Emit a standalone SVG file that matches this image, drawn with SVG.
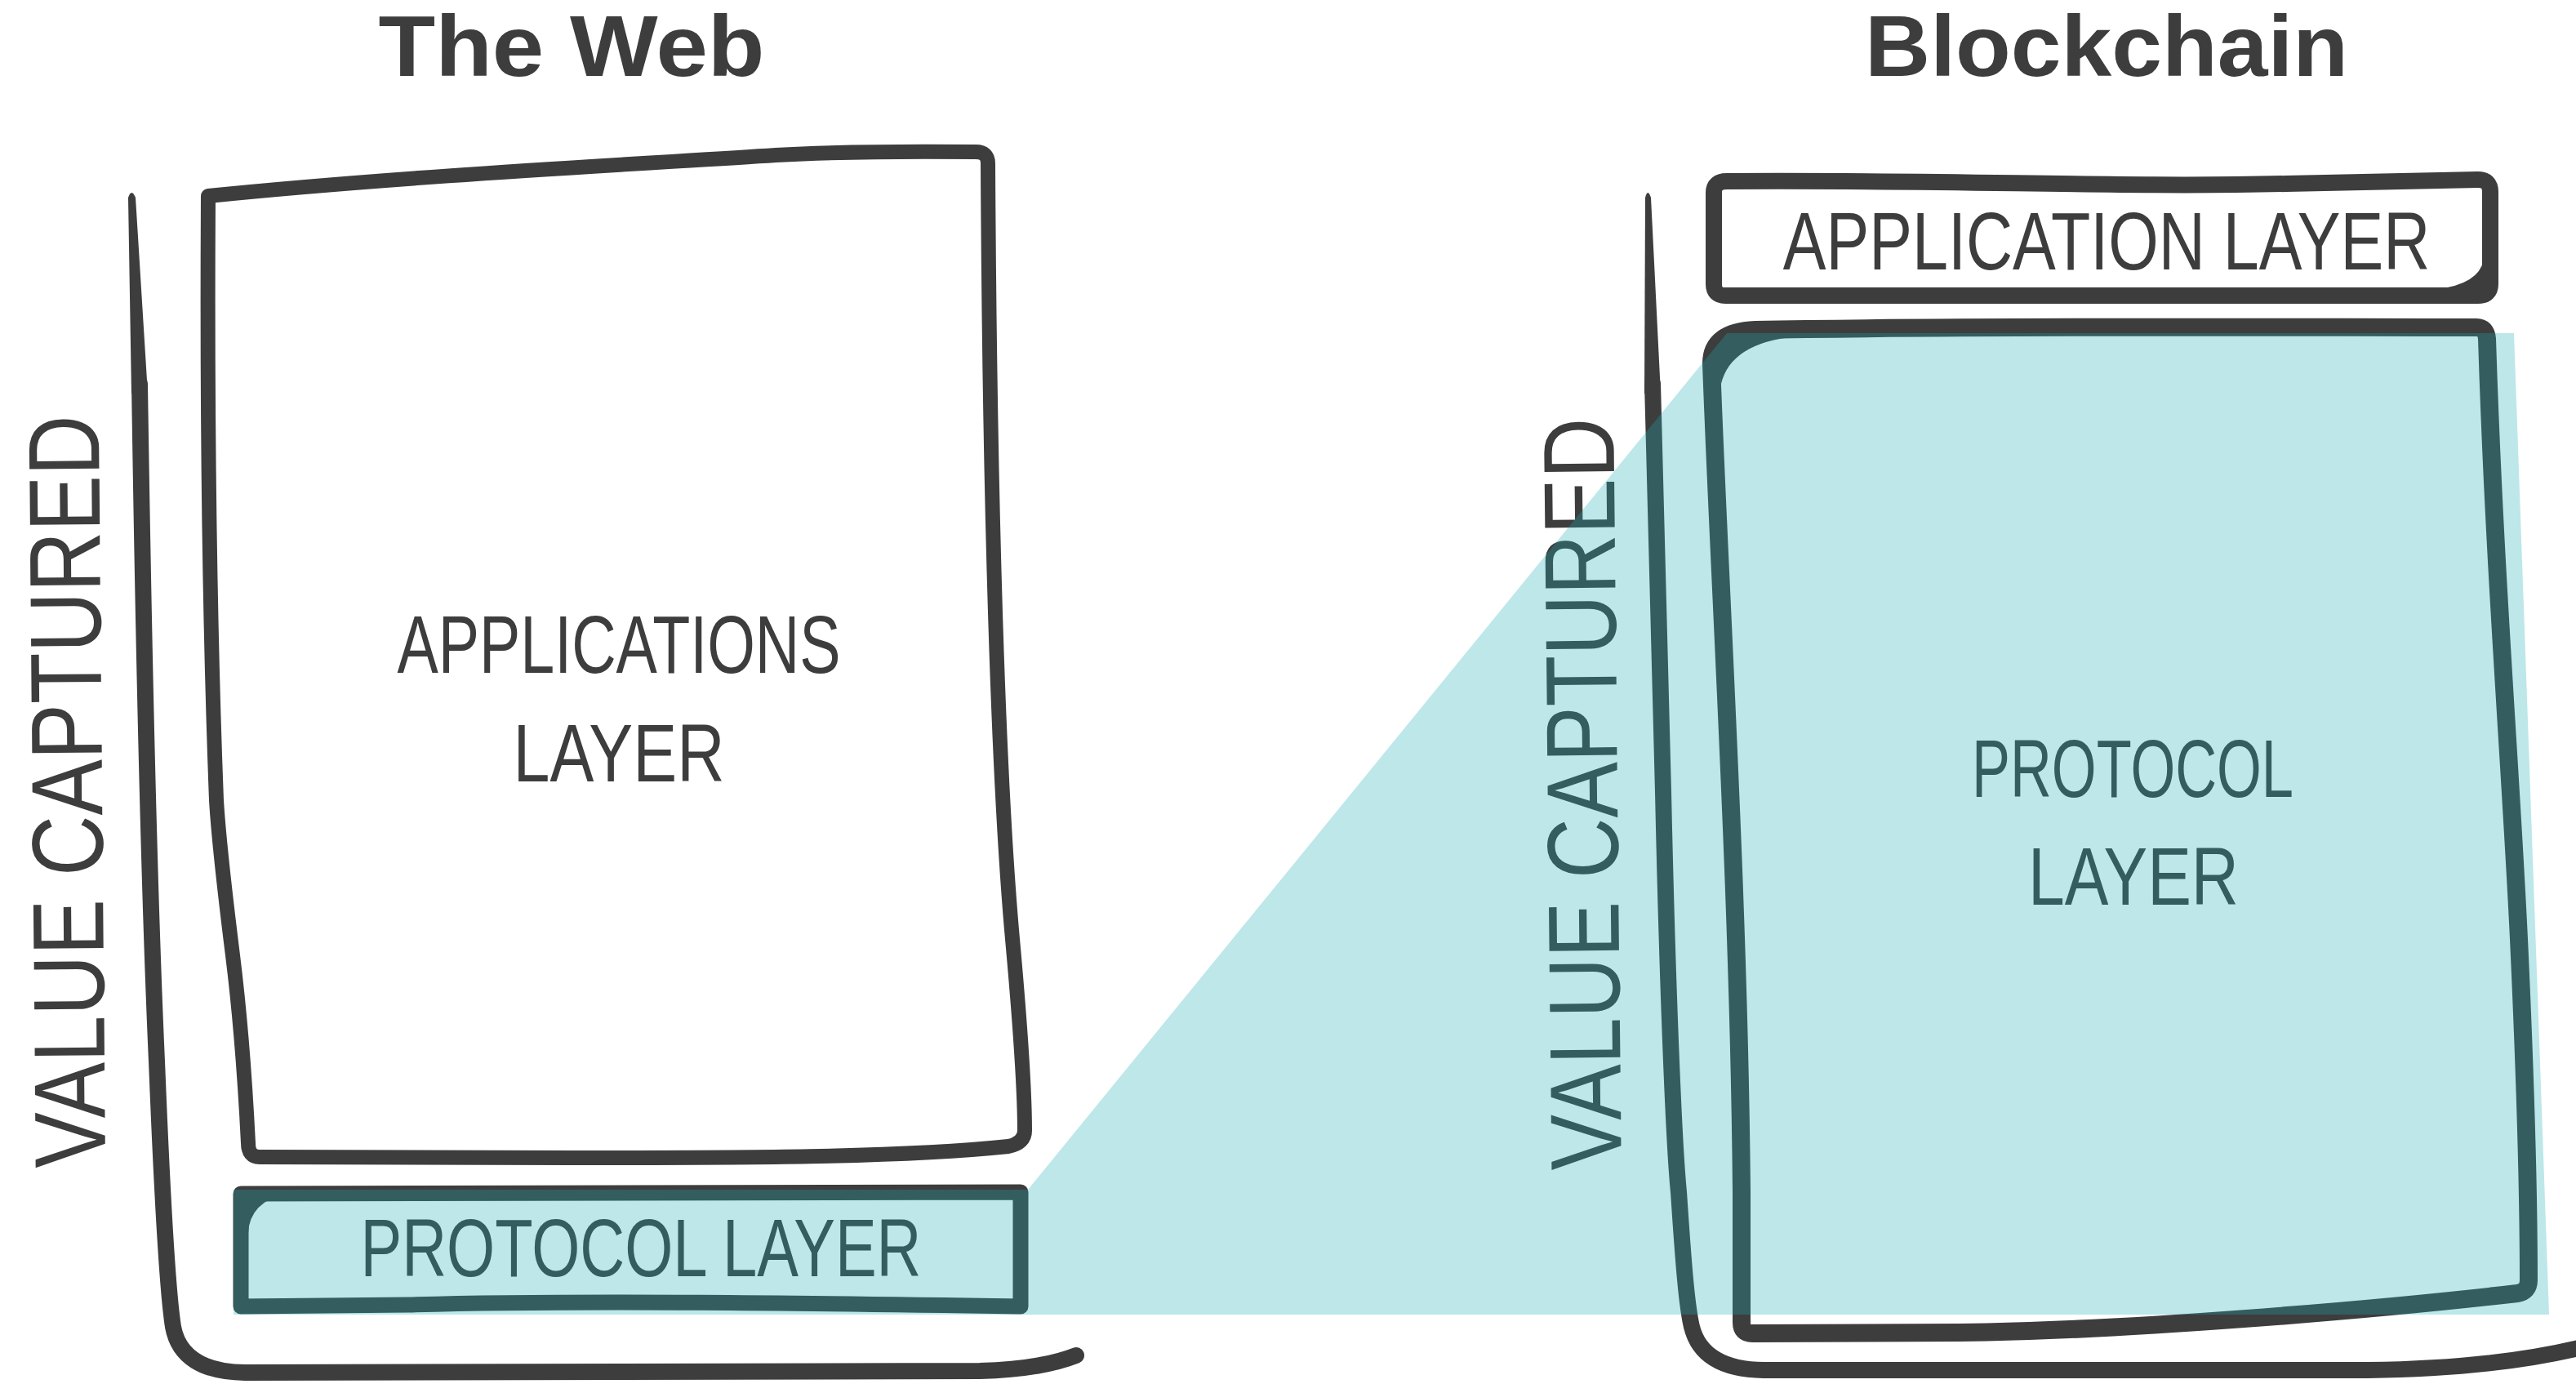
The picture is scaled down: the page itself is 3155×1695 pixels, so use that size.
<svg xmlns="http://www.w3.org/2000/svg" width="3155" height="1695" viewBox="0 0 3155 1695">
<style>
.ink{fill:none;stroke:#3d3d3d;stroke-linecap:round;stroke-linejoin:round}
.box{fill:#fff;stroke:#3d3d3d;stroke-linecap:round;stroke-linejoin:round}
.solid{fill:#3d3d3d;stroke:none}
.title{font-family:"Liberation Sans",Arial,sans-serif;font-weight:bold;font-size:105px;fill:#3d3d3d;text-anchor:middle}
.hand{font-family:"Liberation Sans",Arial,sans-serif;font-size:100px;fill:#3d3d3d;text-anchor:middle}
.axislabel{font-size:124px}
.overlay{fill:#1aaeb4;fill-opacity:0.29;stroke:none}
</style>
<rect width="3155" height="1695" fill="#fff"/>

<g id="title-web"><text class="title" x="700" y="93" textLength="473" lengthAdjust="spacingAndGlyphs">The Web</text></g>
<g id="title-blockchain"><text class="title" x="2580" y="93" textLength="592" lengthAdjust="spacingAndGlyphs">Blockchain</text></g>

<g id="web-axis">
  <path class="solid" d="M157,242 Q161,230 166,242 L181,482 L161,482 Z"/>
  <path class="ink" stroke-width="20" d="M171,470 C176,800 183,1100 192,1300 C198,1450 205,1580 212,1625 Q222,1680 300,1681 L1200,1679 Q1275,1677 1318,1660"/>
  <text class="hand axislabel" transform="translate(125,969) rotate(-90.5)" textLength="922" lengthAdjust="spacingAndGlyphs">VALUE CAPTURED</text>
</g>

<g id="web-applications-layer">
  <path class="box" stroke-width="18" d="M255,240 C500,215 800,200 950,190 C1020,186 1100,185 1195,186 Q1210,186 1210,200 C1212,600 1222,950 1240,1150 C1250,1260 1255,1330 1255,1385 Q1255,1400 1235,1404 C1100,1418 900,1418 700,1418 L318,1417 Q304,1417 304,1400 C300,1320 295,1250 285,1170 C275,1090 268,1030 265,980 C260,850 253,600 255,240 Z"/>
  <text class="hand" x="758" y="824" textLength="543" lengthAdjust="spacingAndGlyphs">APPLICATIONS</text>
  <text class="hand" x="758" y="957" textLength="259" lengthAdjust="spacingAndGlyphs">LAYER</text>
</g>

<g id="web-protocol-layer">
  <path class="box" stroke-width="19" d="M295,1600 L295,1462 L1250,1460 L1250,1600 C1000,1596 700,1592 500,1598 Z"/>
  <path class="solid" d="M290,1462 L350,1462 Q306,1472 304,1510 Z"/>
  <text class="hand" x="785" y="1563" textLength="687" lengthAdjust="spacingAndGlyphs">PROTOCOL LAYER</text>
</g>

<g id="blockchain-axis">
  <path class="solid" d="M2015,242 Q2018,230 2022,242 L2034,482 L2014,482 Z"/>
  <path class="ink" stroke-width="20" d="M2024,470 C2030,700 2034,900 2037,970 C2042,1200 2050,1400 2056,1460 C2062,1550 2066,1600 2072,1625 Q2085,1677 2160,1678 L2900,1678 Q3060,1676 3170,1648"/>
  <text class="hand axislabel" transform="translate(1981,972) rotate(-90.6)" textLength="921" lengthAdjust="spacingAndGlyphs">VALUE CAPTURED</text>
</g>

<g id="blockchain-application-layer">
  <path class="box" stroke-width="20" d="M2099,236 Q2099,222 2115,222 C2400,220 2600,230 2800,225 L3035,220 Q3050,220 3050,235 L3050,348 Q3050,362 3035,362 L2113,362 Q2099,362 2099,348 Z"/>
  <path class="solid" d="M3042,318 Q3036,348 2985,354 L3042,354 Z"/>
  <text class="hand" transform="translate(2580,330) scale(0.791,1)" x="0" y="0" font-size="94">APPLICATION LAYER</text>
</g>

<g id="blockchain-protocol-layer">
  <path class="box" stroke-width="22" d="M2096,445 Q2096,406 2150,404 C2400,399 2800,401 3033,401 Q3045,401 3046,415 C3055,700 3075,940 3085,1150 C3092,1300 3097,1450 3097,1568 Q3097,1582 3083,1584 C2900,1605 2600,1630 2400,1632 L2146,1633 Q2133,1633 2133,1620 L2133,1460 C2130,1100 2105,700 2096,445 Z"/>
  <path class="solid" d="M2100,415 L2200,412 Q2120,420 2108,470 Z"/>
  <text class="hand" x="2612" y="976" textLength="394" lengthAdjust="spacingAndGlyphs">PROTOCOL</text>
  <text class="hand" x="2613" y="1108" textLength="258" lengthAdjust="spacingAndGlyphs">LAYER</text>
</g>

<g id="value-overlay">
  <polygon class="overlay" points="286,1457 1259,1457 2115,408 3079,408 3122,1610 286,1610"/>
</g>
</svg>
